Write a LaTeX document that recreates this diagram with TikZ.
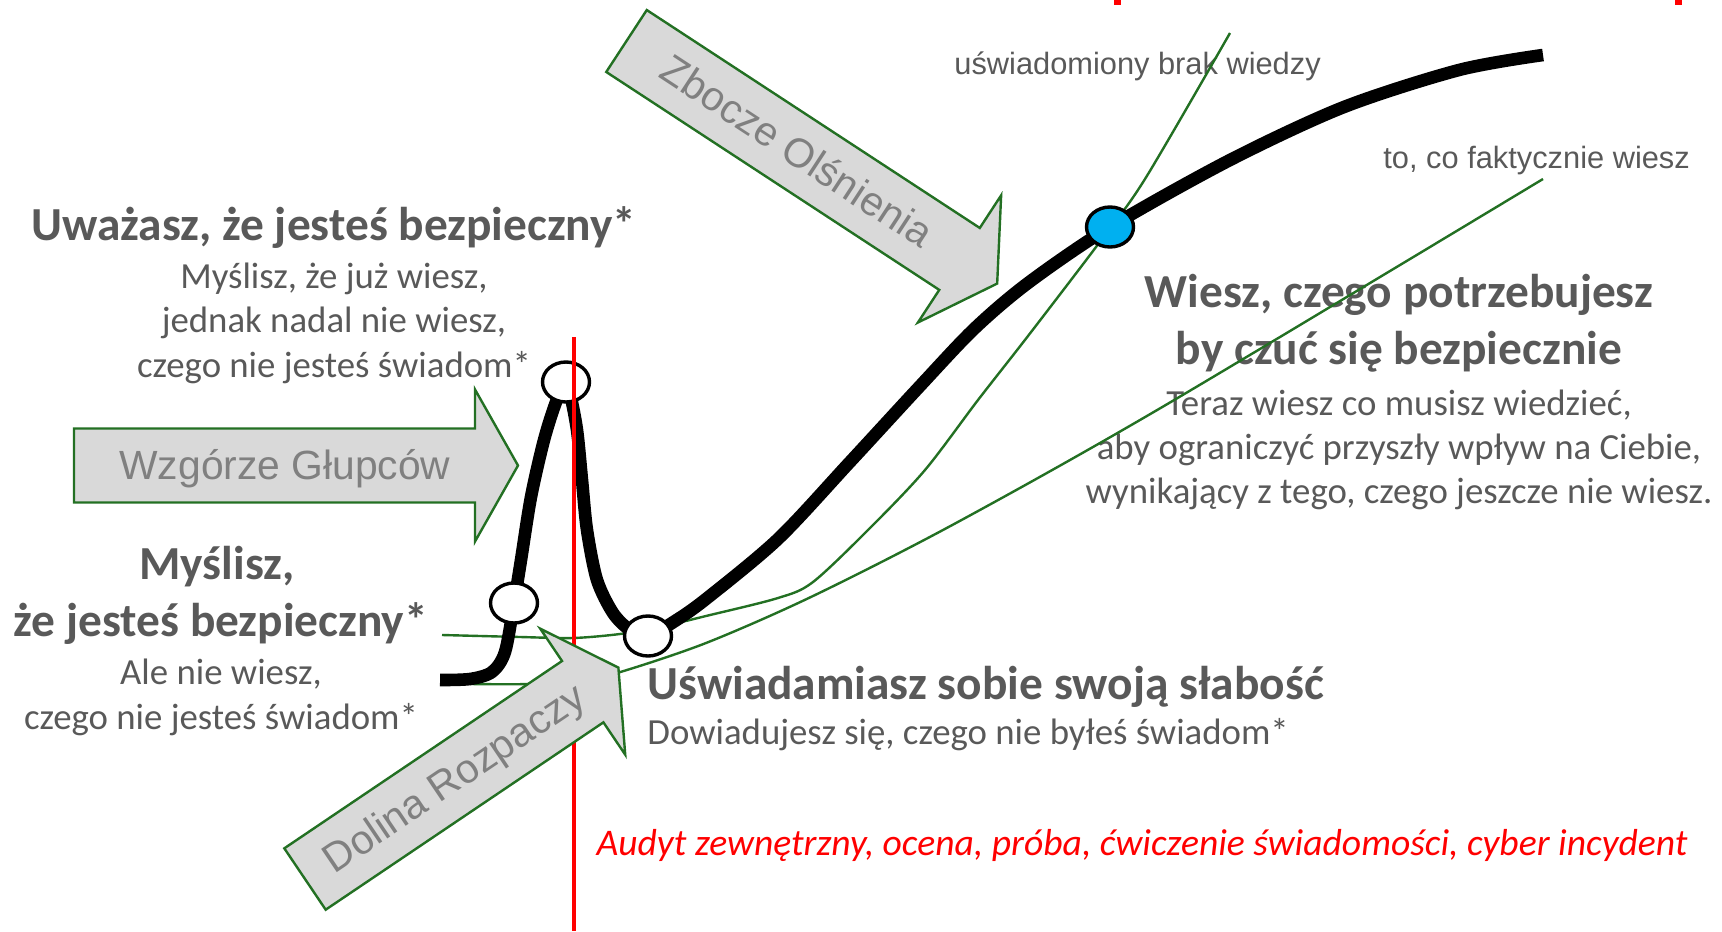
\documentclass[tikz,border=0pt]{standalone}
\usepackage{fontspec}
\usetikzlibrary{shapes.geometric}
\setmainfont{Carlito}
\newfontfamily\lsans{Liberation Sans}
\definecolor{txtgray}{HTML}{595959}
\definecolor{lblgray}{HTML}{808080}
\definecolor{arrfill}{HTML}{D9D9D9}
\definecolor{dgreen}{RGB}{35,112,35}
\definecolor{skyblue}{HTML}{00B0F0}
\newcommand{\blkarrow}[2]{\draw[arrowbox] (0,-37) -- (#1,-37) -- (#1,-76) -- ({#1+#2},0) -- (#1,76) -- (#1,37) -- (0,37) -- cycle;}
\begin{document}
\begin{tikzpicture}[x=0.5pt,y=-0.5pt,
  hb/.style={font=\fontsize{23.7}{28}\selectfont\bfseries, text=txtgray, inner sep=0pt, anchor=base},
  hr/.style={font=\fontsize{18.4}{22}\selectfont, text=txtgray, inner sep=0pt, anchor=base},
  lbl/.style={font=\lsans\fontsize{15.4}{18}\selectfont, text=txtgray, inner sep=0pt, anchor=base west},
  redtxt/.style={font=\fontsize{18.8}{22}\selectfont\itshape, text=red, inner sep=0pt, anchor=base},
  arrlbl/.style={font=\lsans\fontsize{20.4}{24}\selectfont, text=lblgray, inner sep=0pt, anchor=base, transform shape},
  arrowbox/.style={fill=arrfill, draw=dgreen, line width=1.2pt, line join=miter},
  gline/.style={draw=dgreen, line width=1.2pt},
  kcurve/.style={draw=black, line width=6.3pt, line join=round},
  mnode/.style={ellipse, draw=black, line width=1.7pt, fill=white, minimum width=23.5pt, minimum height=20pt, inner sep=0pt},
  redline/.style={draw=red, line width=2.4pt}
]
\useasboundingbox (0,0) rectangle (1722,931);

% texts
\node[hb] (t1) at (334,240) {Uważasz, że jesteś bezpieczny*};
\node[hr] (t2) at (334,288) {Myślisz, że już wiesz,};
\node[hr] (t3) at (334,332) {jednak nadal nie wiesz,};
\node[hr] (t4) at (334,377) {czego nie jesteś świadom*};
\node[hb] (t5) at (217,579) {Myślisz,};
\node[hb] (t6) at (221,636) {że jesteś bezpieczny*};
\node[hr] (t7) at (221,684) {Ale nie wiesz,};
\node[hr] (t8) at (221,729) {czego nie jesteś świadom*};
\node[hb, anchor=base west] (t9) at (647,699) {Uświadamiasz sobie swoją słabość};
\node[hr, anchor=base west] (t10) at (647,744) {Dowiadujesz się, czego nie byłeś świadom*};
\node[hb] (t11) at (1399,307) {Wiesz, czego potrzebujesz};
\node[hb] (t12) at (1399,364) {by czuć się bezpiecznie};
\node[hr] (t13) at (1399,415) {Teraz wiesz co musisz wiedzieć,};
\node[hr] (t14) at (1399,459) {aby ograniczyć przyszły wpływ na Ciebie,};
\node[hr] (t15) at (1399,503) {wynikający z tego, czego jeszcze nie wiesz.};
\node[lbl] (t16) at (954,75) {uświadomiony brak wiedzy};
\node[lbl] (t17) at (1383,168) {to, co faktycznie wiesz};
\node[redtxt] (t18) at (1142,855) {Audyt zewnętrzny, ocena, próba, ćwiczenie świadomości, cyber incydent};

% key points
\coordinate (pA) at (514,603);
\coordinate (pB) at (566,382);
\coordinate (pC) at (648,636);
\coordinate (pD) at (1110,227);
\coordinate (rtop) at (574,337);
\coordinate (rbot) at (574,931);

% green lines
\draw[gline] plot[smooth, tension=0.5] coordinates {(442,635) (520,637) (573,638) (620,634) (660,627) (706,616) (778,598) (813,582) (870,528) (925,470) (978,400) (1028,336) (1099,243) (1145,179) (1230,33)};
\draw[gline] plot[smooth, tension=0.5] coordinates {(470,684) (530,684) (580,680) (617,673) (706,643) (813,596) (956,523) (1164,406) (1543,179)};

% black curve
\draw[kcurve] plot[smooth, tension=0.5] coordinates {(440,680) (470,679) (492,672) (505,652) (pA) (521,560) (531,497) (544,440) (556,402) (pB) (570,393) (577,430) (582,480) (587,530) (597,580) (613,613) (630,630) (pC) (675,621) (706,599) (778,539) (849,463) (920,386) (974,329) (1028,283) (pD) (1230,160) (1344,107) (1459,70) (1543,55)};

% markers
\node[mnode] (mA) at (pA) {};
\node[mnode] (mB) at (pB) {};
\node[mnode] (mC) at (pC) {};
\node[mnode, fill=skyblue] (mD) at (pD) {};

% red line and marks
\draw[redline] (rtop) -- (rbot);
\fill[red] (1114,0) rectangle (1121,5);
\fill[red] (1675,0) rectangle (1682,5);

% block arrows
\begin{scope}[shift={(74,465.5)}]
  \blkarrow{401}{43}
  \node[arrlbl] (wg) at (211,14) {Wzgórze Głupców};
\end{scope}
\begin{scope}[shift={(626.5,41)}, rotate=-33.2]
  \blkarrow{398}{45}
  \node[arrlbl] (zo) at (203,13) {Zbocze Olśnienia};
\end{scope}
\begin{scope}[shift={(305,879)}, rotate=34]
  \blkarrow{335}{43}
  \node[arrlbl] (dr) at (180,13) {Dolina Rozpaczy};
\end{scope}
\end{tikzpicture}
\end{document}
